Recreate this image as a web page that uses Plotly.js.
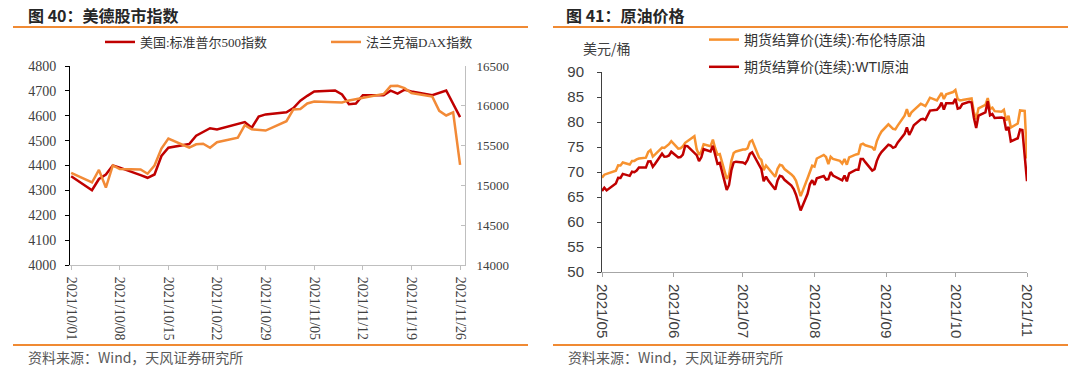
<!DOCTYPE html>
<html>
<head>
<meta charset="utf-8">
<script src="https://cdn.plot.ly/plotly-3.0.1.min.js"></script>
<style>html,body{margin:0;padding:0;background:#fff;}#chart{width:1080px;height:376px;}</style>
</head>
<body>
<div id="chart"></div>
<script>
// ---- Left chart: US / German equity indices ----
const spDates = ['2021-10-01','2021-10-04','2021-10-05','2021-10-06','2021-10-07','2021-10-08','2021-10-11','2021-10-12','2021-10-13','2021-10-14','2021-10-15','2021-10-18','2021-10-19','2021-10-20','2021-10-21','2021-10-22','2021-10-25','2021-10-26','2021-10-27','2021-10-28','2021-10-29',
'2021-11-01','2021-11-02','2021-11-03','2021-11-04','2021-11-05','2021-11-08','2021-11-09','2021-11-10','2021-11-11','2021-11-12','2021-11-15','2021-11-16','2021-11-17','2021-11-18','2021-11-19','2021-11-22','2021-11-23','2021-11-24','2021-11-26'];
const spValues = [4357.04,4300.46,4345.72,4363.55,4399.76,4391.34,4361.19,4350.65,4363.80,4438.26,4471.37,4486.46,4519.63,4536.19,4549.78,4544.90,4566.48,4574.79,4551.68,4596.42,4605.38,
4613.67,4630.65,4660.57,4680.06,4697.53,4701.70,4685.25,4646.71,4649.27,4682.85,4682.80,4700.90,4688.67,4704.54,4697.96,4682.94,4690.70,4701.46,4594.62];
const daxDates = ['2021-10-01','2021-10-04','2021-10-05','2021-10-06','2021-10-07','2021-10-08','2021-10-11','2021-10-12','2021-10-13','2021-10-14','2021-10-15','2021-10-18','2021-10-19','2021-10-20','2021-10-21','2021-10-22','2021-10-25','2021-10-26','2021-10-27','2021-10-28','2021-10-29',
'2021-11-01','2021-11-02','2021-11-03','2021-11-04','2021-11-05','2021-11-08','2021-11-09','2021-11-10','2021-11-11','2021-11-12','2021-11-15','2021-11-16','2021-11-17','2021-11-18','2021-11-19','2021-11-22','2021-11-23','2021-11-24','2021-11-25','2021-11-26'];
const daxValues = [15156.44,15036.55,15194.49,14973.33,15250.78,15206.13,15199.14,15146.87,15249.38,15462.72,15587.36,15474.47,15515.83,15522.92,15472.56,15542.98,15599.23,15757.06,15705.81,15696.33,15688.77,
15806.77,15954.45,15959.98,16029.65,16054.36,16046.46,16040.97,16067.83,16083.11,16094.07,16148.64,16247.86,16251.13,16221.73,16159.97,16115.69,15937.04,15878.39,15917.98,15257.04];
const spName = '美国:标准普尔500指数';
const daxName = '法兰克福DAX指数';

// ---- Right chart: crude oil ----
const oilDates = ['2021-05-26','2021-05-27','2021-05-28',
'2021-06-01','2021-06-02','2021-06-03','2021-06-04','2021-06-07','2021-06-08','2021-06-09','2021-06-10','2021-06-11','2021-06-14','2021-06-15','2021-06-16','2021-06-17','2021-06-18','2021-06-21','2021-06-22','2021-06-23','2021-06-24','2021-06-25','2021-06-28','2021-06-29','2021-06-30',
'2021-07-01','2021-07-02','2021-07-05','2021-07-06','2021-07-07','2021-07-08','2021-07-09','2021-07-12','2021-07-13','2021-07-14','2021-07-15','2021-07-16','2021-07-19','2021-07-20','2021-07-21','2021-07-22','2021-07-23','2021-07-26','2021-07-27','2021-07-28','2021-07-29','2021-07-30',
'2021-08-02','2021-08-03','2021-08-04','2021-08-05','2021-08-06','2021-08-09','2021-08-10','2021-08-11','2021-08-12','2021-08-13','2021-08-16','2021-08-17','2021-08-18','2021-08-19','2021-08-20','2021-08-23','2021-08-24','2021-08-25','2021-08-26','2021-08-27','2021-08-30','2021-08-31',
'2021-09-01','2021-09-02','2021-09-03','2021-09-06','2021-09-07','2021-09-08','2021-09-09','2021-09-10','2021-09-13','2021-09-14','2021-09-15','2021-09-16','2021-09-17','2021-09-20','2021-09-21','2021-09-22','2021-09-23','2021-09-24','2021-09-27','2021-09-28','2021-09-29','2021-09-30',
'2021-10-01','2021-10-04','2021-10-05','2021-10-06','2021-10-07','2021-10-08','2021-10-11','2021-10-12','2021-10-13','2021-10-14','2021-10-15','2021-10-18','2021-10-19','2021-10-20','2021-10-21','2021-10-22','2021-10-25','2021-10-26','2021-10-27','2021-10-28','2021-10-29',
'2021-11-01','2021-11-02','2021-11-03','2021-11-04','2021-11-05','2021-11-08','2021-11-09','2021-11-10','2021-11-11','2021-11-12','2021-11-15','2021-11-16','2021-11-17','2021-11-18','2021-11-19','2021-11-22','2021-11-23','2021-11-24','2021-11-25','2021-11-26'];
const brentValues = [68.87,69.46,69.63,
70.25,71.35,71.31,71.89,71.49,72.22,72.22,72.52,72.69,72.86,73.99,74.39,73.08,73.51,74.90,74.81,75.19,75.56,76.18,74.68,74.76,75.13,
75.84,76.17,77.16,74.53,73.43,74.12,75.55,75.16,76.49,74.76,73.47,73.59,68.62,69.35,72.23,73.79,74.10,74.50,74.48,74.74,76.05,76.33,
72.89,72.41,70.38,71.29,70.70,69.04,70.63,71.44,71.31,70.59,69.51,69.03,68.23,66.45,65.18,68.75,70.05,71.25,71.07,72.70,73.41,72.99,
71.59,73.03,72.61,72.22,71.69,72.60,71.45,72.92,73.51,73.60,75.46,75.67,75.34,74.92,74.36,76.19,77.25,78.09,79.53,79.09,78.64,78.52,
79.28,81.26,82.56,81.08,81.95,82.39,83.65,83.42,83.18,84.00,84.86,84.33,85.08,85.82,84.61,85.53,85.99,86.40,84.58,84.32,84.38,
84.71,84.72,81.99,80.54,82.74,83.43,84.78,82.64,82.87,82.17,82.05,82.43,80.28,81.24,78.89,79.70,82.31,82.25,82.22,72.72];
const wtiValues = [66.21,66.85,66.32,
67.72,68.83,68.81,69.62,69.23,70.05,69.96,70.29,70.91,70.88,72.12,72.15,71.04,71.64,73.66,73.06,73.08,73.30,74.05,72.91,72.98,73.47,
75.23,75.16,null,73.37,72.20,72.94,74.56,74.10,75.25,73.13,71.65,71.81,66.42,67.42,70.30,71.91,72.07,71.91,71.65,72.39,73.62,73.95,
71.26,70.56,68.15,69.09,68.28,66.48,68.29,69.25,69.09,68.44,67.29,66.59,65.46,63.69,62.32,65.64,67.54,68.36,67.42,68.74,69.21,68.50,
68.59,69.99,69.29,null,68.35,69.30,68.14,69.72,70.45,70.46,72.61,72.61,71.97,70.29,70.56,72.23,73.30,73.98,75.45,75.29,74.83,75.03,
75.88,77.62,78.93,77.43,78.30,79.35,80.52,80.64,80.44,81.31,82.28,82.44,82.96,83.87,82.50,83.76,83.76,84.65,82.66,82.81,83.57,
84.05,83.91,80.86,78.81,81.27,81.93,84.15,81.34,81.59,80.79,80.88,80.76,78.36,79.01,76.10,76.75,78.50,78.39,null,68.15];
const brentName = '期货结算价(连续):布伦特原油';
const wtiName = '期货结算价(连续):WTI原油';

const W = 1080, H = 376;
const px = v => v / W;
const py = v => 1 - v / H;

const RED = '#C00000';
const ORANGE = '#F28A37';
const OIL_ORANGE = '#F7922F';
const RULE = '#F08A33';
const serif = 'Liberation Serif, Noto Sans CJK SC, serif';
const sans = 'Liberation Sans, Noto Sans CJK SC, sans-serif';
const cjk = 'Noto Sans CJK SC, sans-serif';

const traces = [
  {x: spDates, y: spValues, name: spName, type: 'scatter', mode: 'lines', xaxis: 'x', yaxis: 'y',
   line: {color: RED, width: 2.5}, legend: 'legend'},
  {x: daxDates, y: daxValues, name: daxName, type: 'scatter', mode: 'lines', xaxis: 'x', yaxis: 'y2',
   line: {color: ORANGE, width: 2.5}, legend: 'legend'},
  {x: oilDates, y: brentValues, name: brentName, type: 'scatter', mode: 'lines', xaxis: 'x2', yaxis: 'y3',
   line: {color: OIL_ORANGE, width: 2.5}, connectgaps: true, legend: 'legend2', legendgroup: 'b'},
  {x: oilDates, y: wtiValues, name: wtiName, type: 'scatter', mode: 'lines', xaxis: 'x2', yaxis: 'y3',
   line: {color: RED, width: 2.5}, connectgaps: true, legend: 'legend2', legendgroup: 'w'}
];

const layout = {
  width: W, height: H,
  margin: {l: 0, r: 0, t: 0, b: 0},
  paper_bgcolor: '#fff', plot_bgcolor: '#fff',
  showlegend: true,
  xaxis: {
    domain: [px(70), px(465)], anchor: 'y', type: 'date',
    range: ['2021-09-30 20:00', '2021-11-26 17:00'],
    tick0: '2021-10-01', dtick: 7 * 86400000, tickformat: '%Y/%m/%d',
    tickangle: 90, ticks: 'outside', ticklen: 4, tickcolor: '#BFBFBF',
    showline: true, linecolor: '#BFBFBF', linewidth: 1, showgrid: false, zeroline: false,
    tickfont: {family: serif, size: 14, color: '#404040'}, ticklabelstandoff: 4
  },
  yaxis: {
    domain: [1 - 265 / H, 1 - 66 / H], anchor: 'x', range: [4000, 4800], dtick: 100,
    ticks: 'outside', ticklen: 4, tickcolor: '#000', tickformat: 'd',
    showline: true, linecolor: '#000', linewidth: 1, showgrid: false, zeroline: false,
    tickfont: {family: serif, size: 14, color: '#404040'}, ticklabelstandoff: 6
  },
  yaxis2: {
    overlaying: 'y', side: 'right', anchor: 'x', range: [14000, 16500], dtick: 500, tickformat: 'd',
    ticks: 'inside', ticklen: 4, tickcolor: '#BFBFBF',
    showline: true, linecolor: '#BFBFBF', linewidth: 1, showgrid: false, zeroline: false,
    tickfont: {family: serif, size: 13, color: '#404040'}, ticklabelstandoff: 8
  },
  xaxis2: {
    domain: [px(602), px(1027)], anchor: 'y3', type: 'date',
    range: ['2021-05-26', '2021-11-26'],
    tick0: '2021-05-26', dtick: 'M1', tickformat: '%Y/%m',
    tickangle: 90, ticks: 'outside', ticklen: 4, tickcolor: '#A6A6A6',
    showline: true, linecolor: '#A6A6A6', linewidth: 1, showgrid: false, zeroline: false,
    tickfont: {family: sans, size: 15, color: '#404040'}, ticklabelstandoff: 4
  },
  yaxis3: {
    domain: [1 - 272 / H, 1 - 72 / H], anchor: 'x2', range: [50, 90], dtick: 5,
    ticks: 'outside', ticklen: 4, tickcolor: '#404040',
    showline: true, linecolor: '#404040', linewidth: 1, showgrid: false, zeroline: false,
    tickfont: {family: sans, size: 15, color: '#404040'}, ticklabelstandoff: 10
  },
  legend: {
    orientation: 'h', x: px(100), xanchor: 'left', y: py(42), yanchor: 'middle',
    entrywidth: 181, entrywidthmode: 'pixels',
    font: {family: serif, size: 13, color: '#333'}, bgcolor: 'rgba(0,0,0,0)', borderwidth: 0
  },
  legend2: {
    orientation: 'v', x: px(704), xanchor: 'left', y: py(24), yanchor: 'top',
    tracegroupgap: 6,
    font: {family: sans, size: 14, color: '#333'}, bgcolor: 'rgba(0,0,0,0)', borderwidth: 0
  },
  shapes: [
    {type: 'line', xref: 'paper', yref: 'paper', x0: px(13), x1: px(528), y0: py(27), y1: py(27), line: {color: RULE, width: 2}},
    {type: 'line', xref: 'paper', yref: 'paper', x0: px(553), x1: px(1068), y0: py(27), y1: py(27), line: {color: RULE, width: 2}},
    {type: 'line', xref: 'paper', yref: 'paper', x0: px(13), x1: px(528), y0: py(345), y1: py(345), line: {color: RULE, width: 2}},
    {type: 'line', xref: 'paper', yref: 'paper', x0: px(553), x1: px(1068), y0: py(345), y1: py(345), line: {color: RULE, width: 2}}
  ],
  annotations: [
    {xref: 'paper', yref: 'paper', x: px(26), y: py(14.5), xanchor: 'left', yanchor: 'middle', showarrow: false,
     text: '<b>图 40：美德股市指数</b>', font: {family: cjk, size: 16, color: '#262626'}},
    {xref: 'paper', yref: 'paper', x: px(564), y: py(14.5), xanchor: 'left', yanchor: 'middle', showarrow: false,
     text: '<b>图 41：原油价格</b>', font: {family: cjk, size: 16, color: '#262626'}},
    {xref: 'paper', yref: 'paper', x: px(581), y: py(48), xanchor: 'left', yanchor: 'middle', showarrow: false,
     text: '美元/桶', font: {family: cjk, size: 14, color: '#404040'}},
    {xref: 'paper', yref: 'paper', x: px(26), y: py(357), xanchor: 'left', yanchor: 'middle', showarrow: false,
     text: '资料来源：Wind，天风证券研究所', font: {family: cjk, size: 14, color: '#595959'}},
    {xref: 'paper', yref: 'paper', x: px(566), y: py(357), xanchor: 'left', yanchor: 'middle', showarrow: false,
     text: '资料来源：Wind，天风证券研究所', font: {family: cjk, size: 14, color: '#595959'}}
  ]
};

Plotly.newPlot('chart', traces, layout, {displayModeBar: false, staticPlot: true});
</script>
</body>
</html>
